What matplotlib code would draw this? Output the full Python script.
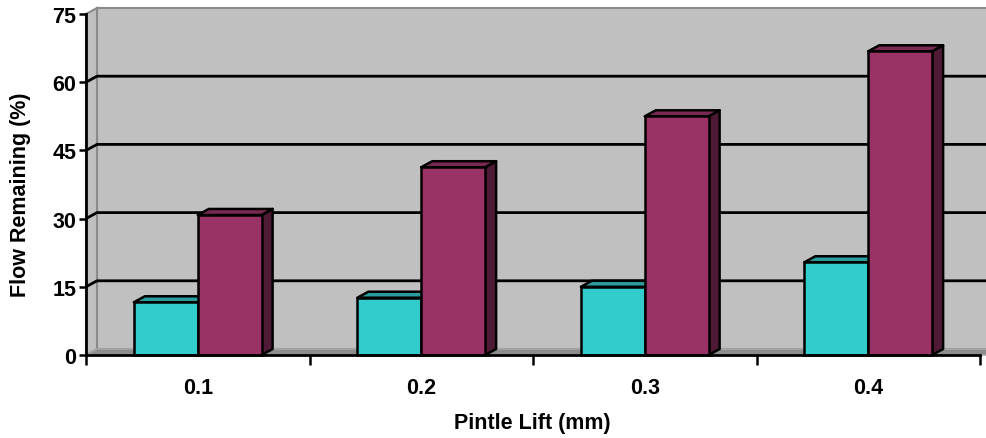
import matplotlib
matplotlib.use("Agg")
import matplotlib.pyplot as plt
from matplotlib.patches import Polygon
import numpy as np

# ---- data ----
categories = ["0.1", "0.2", "0.3", "0.4"]
series_a = [11.6, 12.6, 15.0, 20.4]   # cyan
series_b = [30.8, 41.3, 52.5, 66.8]   # magenta
yticks = [0, 15, 30, 45, 60, 75]
xlabel = "Pintle Lift (mm)"
ylabel = "Flow Remaining (%)"

W, H, DPI = 986, 439, 100
fig = plt.figure(figsize=(W / DPI, H / DPI), dpi=DPI)
fig.patch.set_facecolor("white")

# front plane of the chart in pixels
x0p, x1p, ytop, ybot = 86, 980, 15, 356
ax = fig.add_axes([x0p / W, (H - ybot) / H, (x1p - x0p) / W, (ybot - ytop) / H])
ncat = len(categories)
ax.set_xlim(0, ncat)
ax.set_ylim(0, 75)
ax.set_facecolor("none")

# depth offset (pixels -> data)
px_x = (x1p - x0p) / ncat
px_y = (ybot - ytop) / 75.0
dx = 11 / px_x
dy = 6 / px_y
xr = ncat + 0.1  # walls run off the right edge

wall_c = "#C0C0C0"
wall_e = "#8A8A8A"
# back wall
ax.add_patch(Polygon([(dx, dy), (xr, dy), (xr, 75 + dy), (dx, 75 + dy)],
                     closed=True, facecolor=wall_c, edgecolor=wall_e, lw=1.5,
                     clip_on=False, zorder=0.5))
# left wall
ax.add_patch(Polygon([(0, 0), (dx, dy), (dx, 75 + dy), (0, 75)],
                     closed=True, facecolor=wall_c, edgecolor=wall_e, lw=1.5,
                     clip_on=False, zorder=0.6))
# floor
ax.add_patch(Polygon([(0, 0), (xr, 0), (xr + dx, dy), (dx, dy)],
                     closed=True, facecolor="#8C8C8C", edgecolor="#A8A8A8", lw=1.2,
                     clip_on=False, zorder=0.7))

# gridlines on back + left wall
for v in yticks[1:-1]:
    ax.plot([0, dx, xr], [v, v + dy, v + dy], color="black", lw=2,
            clip_on=False, zorder=1, solid_capstyle="butt")

# bars
bw = 1 / 3.5
xs = np.arange(ncat) + 0.5
series = [
    (series_a, xs - bw, "#33CCCC", "#2A9E9E", "#1F6F6F", 3),
    (series_b, xs, "#993366", "#7A2952", "#4F1A35", 4),
]
for vals, lefts, front, top, side, z in series:
    for xl, v in zip(lefts, vals):
        xrgt = xl + bw
        ax.add_patch(Polygon([(xrgt, 0), (xrgt + dx, dy), (xrgt + dx, v + dy), (xrgt, v)],
                             closed=True, facecolor=side, edgecolor="black", lw=1.8,
                             zorder=z, clip_on=False, joinstyle="round"))
        ax.add_patch(Polygon([(xl, v), (xrgt, v), (xrgt + dx, v + dy), (xl + dx, v + dy)],
                             closed=True, facecolor=top, edgecolor="black", lw=1.8,
                             zorder=z, clip_on=False, joinstyle="round"))
    ax.bar(lefts, vals, width=bw, align="edge", color=front, edgecolor="black",
           linewidth=1.8, zorder=z + 0.1, clip_on=False)

# spines / ticks
for s in ["top", "right"]:
    ax.spines[s].set_visible(False)
for s in ["left", "bottom"]:
    ax.spines[s].set_linewidth(2)
    ax.spines[s].set_zorder(6)

fp = dict(family=["Liberation Sans", "DejaVu Sans"], weight="bold")
ax.set_yticks(yticks)
ax.set_yticklabels([str(t) for t in yticks], fontsize=15.5, **fp)
ax.tick_params(axis="y", direction="out", length=5, width=1.8, pad=2)
ax.set_xticks(np.arange(ncat + 1))
ax.set_xticklabels([])
ax.tick_params(axis="x", which="major", direction="out", length=7, width=1.8)
ax.set_xticks(xs, minor=True)
ax.set_xticklabels(categories, minor=True, fontsize=15.5, **fp)
ax.tick_params(axis="x", which="minor", length=0, pad=16)

fig.text(532 / W, 1 - 424 / H, xlabel, ha="center", va="center", fontsize=15.5, **fp)
fig.text(21 / W, 1 - 195 / H, ylabel, ha="center", va="center", rotation=90,
         fontsize=15.5, **fp)

fig.savefig("out.png", dpi=DPI, facecolor="white")
